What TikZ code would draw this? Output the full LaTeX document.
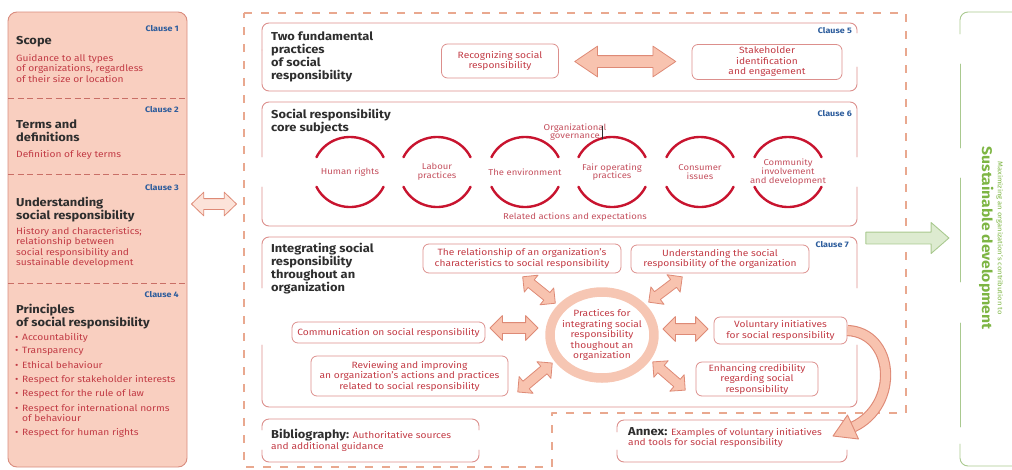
\documentclass[tikz,border=0pt]{standalone}
\usepackage{fontspec}
\setmainfont{Fira Sans}[FakeStretch=1.12]
\usetikzlibrary{shapes.arrows,calc}

\definecolor{leftfill}{HTML}{F9CFC0}
\definecolor{leftline}{HTML}{D98C7E}
\definecolor{sepline}{HTML}{C96F66}
\definecolor{txtred}{HTML}{C23B45}
\definecolor{subjred}{HTML}{C4505E}
\definecolor{headgray}{HTML}{2E2E2E}
\definecolor{clauseblue}{HTML}{2C5C9C}
\definecolor{frameline}{HTML}{DC8F8C}
\definecolor{dashcol}{HTML}{E9A88F}
\definecolor{arcred}{HTML}{C8142F}
\definecolor{ringcol}{HTML}{F6C6B3}
\definecolor{arrowfill}{HTML}{F8C3AF}
\definecolor{arrowline}{HTML}{DE8A76}
\definecolor{lightfill}{HTML}{FCE3D9}
\definecolor{greenline}{HTML}{A9C98F}
\definecolor{greenfill}{HTML}{DDEBD0}
\definecolor{greentext}{HTML}{7DB543}

% section frame with open gaps in the sides
\newcommand{\gapbox}[8]{%
  \draw[secframe] (#1,#5) -- (#1,#2) -- (#3,#2) -- (#3,#7);
  \draw[secframe] (#1,#6) -- (#1,#4) -- (#3,#4) -- (#3,#8);
}

\begin{document}
\begin{tikzpicture}[x=1pt, y=-1pt, line join=round, line cap=round,
  secframe/.style={draw=frameline, line width=0.9pt, rounded corners=7pt},
  clause/.style={font=\fontsize{8}{9}\selectfont\bfseries, text=clauseblue, inner sep=0pt, anchor=east},
  heading/.style={font=\fontsize{11.5}{13}\selectfont\bfseries, text=headgray, align=left, inner sep=0pt, anchor=north west},
  bodytext/.style={font=\fontsize{9.1}{10.5}\selectfont, text=txtred, align=left, inner sep=0pt, anchor=north west},
  sbox/.style={draw=frameline, line width=0.8pt, rounded corners=6pt, align=center, text=txtred, font=\fontsize{9.1}{10.5}\selectfont, inner sep=1pt},
  subject/.style={text=subjred, align=center, font=\fontsize{8.5}{8.6}\selectfont, inner sep=0pt},
  subjarc/.style={draw=arcred, line width=2.4pt},
  fat/.style={double arrow, draw=arrowline, fill=arrowfill, line width=0.8pt, inner xsep=0pt, inner ysep=4.5pt,
    minimum width=1pt, double arrow tip angle=90, double arrow head extend=6pt}]
\useasboundingbox (0,0) rectangle (1012,469);

% left column
\draw[draw=leftline, fill=leftfill, line width=0.9pt, rounded corners=9pt] (8,12) rectangle (187,467);
\foreach \y in {98,174,283}
  \draw[sepline, line width=0.9pt, line cap=butt, dash pattern=on 6pt off 3.5pt] (8,\y) -- (187,\y);
\node[clause] (c1) at (179,29) {Clause 1};
\node[heading] (scope) at (16,36) {Scope};
\node[bodytext] (scopet) at (16,54) {Guidance to all types\\of organizations, regardless\\of their size or location};
\node[clause] (c2) at (179,110) {Clause 2};
\node[heading] (terms) at (16,120) {Terms and\\definitions};
\node[bodytext] (termst) at (16,150) {Definition of key terms};
\node[clause] (c3) at (179,188) {Clause 3};
\node[heading] (under) at (16,197) {Understanding\\social responsibility};
\node[bodytext] (undert) at (16,227) {History and characteristics;\\relationship between\\social responsibility and\\sustainable development};
\node[clause] (c4) at (179,295) {Clause 4};
\node[heading] (princ) at (16,304) {Principles\\of social responsibility};
\foreach \y/\t [count=\i] in {337/Accountability, 351/Transparency, 365/Ethical behaviour,
    379/Respect for stakeholder interests, 393/Respect for the rule of law,
    408/{Respect for international norms\\\hspace*{7pt}of behaviour}, 432/Respect for human rights}
  \node[bodytext] (pr\i) at (15,\y-4) {\makebox[7pt][l]{•}\t};

% dashed frame of the main body
\draw[dashcol, line width=2.4pt, line cap=butt, dash pattern=on 8pt off 9pt]
  (244,13) -- (906,13) -- (906,413) -- (552,413) -- (552,467) -- (244,467) -- cycle;
\node[fat, fill=lightfill, minimum height=45pt, inner ysep=5pt, double arrow head extend=6.5pt, double arrow tip angle=88] (lrarr) at (214,204) {};

% clause 5
\gapbox{262}{23}{857}{91}{50}{50}{33}{67}
\node[clause] (c5) at (852,31) {Clause 5};
\node[heading] (tfp) at (271,32) {Two fundamental\\practices\\of social\\responsibility};
\node[sbox, minimum width=117pt, minimum height=34pt] (rec) at (500,61) {Recognizing social\\responsibility};
\node[sbox, minimum width=150pt, minimum height=35pt] (stk) at (767,62) {Stakeholder\\identification\\and engagement};
\node[fat, minimum height=101pt, inner ysep=5.5pt, double arrow head extend=9.5pt, double arrow tip angle=68] (tfparr) at ($(rec.east)!0.5!(stk.west)$) {};

% clause 6
\gapbox{262}{102}{857}{226}{157}{187}{157}{187}
\node[clause] (c6) at (852,114) {Clause 6};
\node[heading] (core) at (271,109) {Social responsibility\\core subjects};
\foreach \x/\nm/\txt in {350/hr/Human rights, 437/lab/{Labour\\practices}, 525/env/The environment,
    612/fop/{Fair operating\\practices}, 700/cons/{Consumer\\issues}, 788/comm/{Community\\involvement\\and development}}{
  \draw[subjarc] (\x,172) ++(-25:37 and 35) arc[start angle=-25, end angle=-155, x radius=37, y radius=35];
  \draw[subjarc] (\x,172) ++(25:37 and 35) arc[start angle=25, end angle=155, x radius=37, y radius=35];
  \node[subject] (\nm) at (\x,172) {\txt};
}
\node[subject] (gov) at (575,132) {Organizational\\governance};
\draw[headgray, line width=0.6pt] (602,126) -- (602,139);
\node[subject] (rel) at (575,217) {Related actions and expectations};

% clause 7
\gapbox{262}{237}{857}{407}{288}{345}{288}{345}
\node[clause] (c7) at (849,245) {Clause 7};
\node[heading] (integ) at (271,243) {Integrating social\\responsibility\\throughout an\\organization};
\draw[ringcol, line width=9.5pt] (602,335) ellipse [x radius=52, y radius=43];
\node[sbox, draw=none, inner sep=0pt] (prac) at (602,335) {Practices for\\integrating social\\responsibility\\thoughout an\\organization};
\node[sbox, minimum width=198pt, minimum height=29pt] (char) at (522,258.5) {The relationship of an organization's\\characteristics to social responsibility};
\node[sbox, minimum width=178pt, minimum height=28pt] (und) at (720,259) {Understanding the social\\responsibility of the organization};
\node[sbox, minimum width=193pt, minimum height=21pt] (comms) at (388.5,332.5) {Communication on social responsibility};
\node[sbox, minimum width=133pt, minimum height=27pt] (vol) at (780.5,330.5) {Voluntary initiatives\\for social responsibility};
\node[sbox, minimum width=197pt, minimum height=40pt] (rev) at (409.5,376) {Reviewing and improving\\an organization's actions and practices\\related to social responsibility};
\node[sbox, minimum width=122pt, minimum height=34pt] (enh) at (757,379) {Enhancing credibility\\regarding social\\responsibility};
\node[fat, rotate=-39, minimum height=42pt] (a1) at (539,290) {};
\node[fat, rotate=37, minimum height=42pt] (a2) at (665.5,289.5) {};
\node[fat, minimum height=48pt, inner ysep=5pt, double arrow head extend=7pt] (a3) at (514,328) {};
\node[fat, minimum height=45pt, inner ysep=5pt, double arrow head extend=7pt] (a4) at (685.5,329) {};
\node[fat, rotate=40, minimum height=45pt] (a5) at (535,377.5) {};
\node[fat, rotate=-41, minimum height=43pt] (a6) at (669,376) {};

% bibliography and annex
\gapbox{262}{419}{479}{462}{430}{450}{430}{450}
\node[bodytext] (bib) at (271,429) {{\color{headgray}\fontsize{11.5}{13}\selectfont\bfseries Bibliography:} Authoritative sources\\and additional guidance};
\gapbox{617}{420}{847}{462}{432}{450}{428}{450}
\node[bodytext] (anx) at (628,427) {{\color{headgray}\fontsize{11.5}{13}\selectfont\bfseries Annex:} Examples of voluntary initiatives\\and tools for social responsibility};
\coordinate (anxin) at (853,427);
\draw[arrowline, line width=1.1pt, line cap=butt, double=arrowfill, double distance=9pt] (vol.east) .. controls +(47,2) and +(47,-22) .. (anxin);
\draw[arrowline, fill=arrowfill, line width=0.9pt] (847.5,415) -- (833,436) -- (858.5,439) -- cycle;

% sustainable development
\node[single arrow, draw=greenline, fill=greenfill, line width=0.9pt, inner xsep=0pt, inner ysep=5.5pt, minimum width=1pt, minimum height=83pt, single arrow head extend=9.5pt, single arrow tip angle=82] (grarr) at (904,238) {};
\draw[greenline, line width=0.9pt, rounded corners=8pt] (1020,12) -- (960,12) -- (960,34);
\draw[greenline, line width=0.9pt] (960,64) -- (960,148) (960,178) -- (960,282) (960,323) -- (960,427);
\draw[greenline, line width=0.9pt, rounded corners=8pt] (960,444) -- (960,466) -- (1020,466);
\node[rotate=-90, text=greentext, align=center, inner sep=0pt] (sd) at (991,238)
  {{\fontsize{6.8}{8}\selectfont Maximizing an organization's contribution to}\\[2pt]{\fontsize{14}{15}\selectfont\bfseries Sustainable development}};
\end{tikzpicture}
\end{document}
